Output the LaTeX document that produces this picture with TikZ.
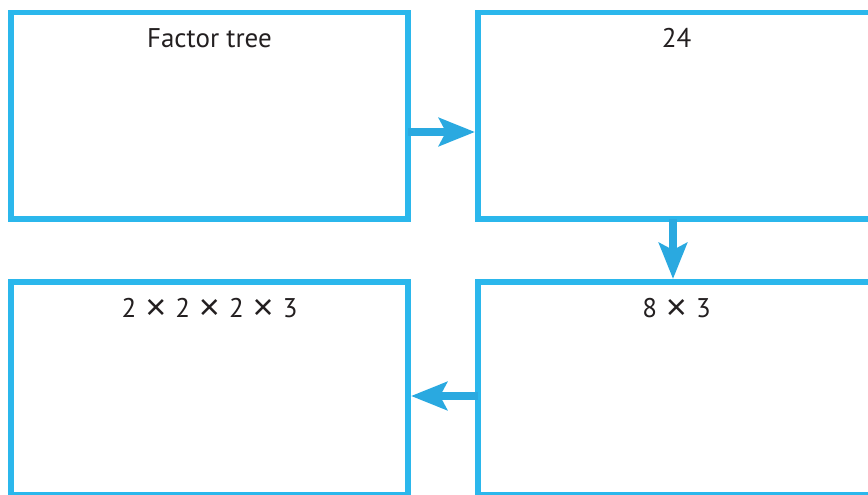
\documentclass[tikz,border=0pt]{standalone}
\usepackage{fontspec}
\setmainfont{PT Sans}
\newfontfamily\symfont{Liberation Sans}
\newcommand\tms{\hspace{9pt}\raisebox{-2pt}{\symfont\fontsize{36}{36}\selectfont ×}\hspace{9pt}}
\usetikzlibrary{arrows.meta}
\definecolor{boxcyan}{HTML}{2BB7EC}
\definecolor{arrcyan}{HTML}{2AA9E0}
\definecolor{txt}{HTML}{231F20}
\tikzset{
  panel/.style={draw=boxcyan, line width=5.8pt, rectangle, outer sep=0pt, inner sep=0pt},
  flow/.style={draw=arrcyan, line width=7.5pt, -{Stealth[length=36pt,width=28pt,inset=7pt]}},
  lbl/.style={anchor=base, inner sep=0pt, text=txt, font=\fontsize{27}{32}\selectfont}
}
\begin{document}
\begin{tikzpicture}[x=1pt,y=-1pt]
\useasboundingbox (0,0) rectangle (868,495);
\begin{scope}
\clip (0,0) rectangle (868,495);
\node[panel, minimum width=397pt, minimum height=206.5pt] (b1) at (209.5,115.75) {};
\node[panel, minimum width=397pt, minimum height=206.5pt] (b2) at (676.5,115.75) {};
\node[panel, minimum width=397pt, minimum height=213pt] (b3) at (209.5,388.5) {};
\node[panel, minimum width=397pt, minimum height=213pt] (b4) at (676.5,388.5) {};
\end{scope}
\node[lbl] (t1) at ([yshift=-34.8pt]b1.north) {Factor tree};
\node[lbl] (t2) at ([yshift=-34.8pt]b2.north) {24};
\node[lbl] (t4) at ([yshift=-35pt]b4.north) {8\tms3};
\node[lbl] (t3) at ([yshift=-35pt]b3.north) {2\tms2\tms2\tms3};
\draw[flow] ([yshift=-16.25pt]b1.east) -- ([yshift=-16.25pt,xshift=-3pt]b2.west);
\draw[flow] ([xshift=-3.5pt]b2.south) -- ([xshift=-3.5pt,yshift=3pt]b4.north);
\draw[flow] ([yshift=-7.5pt]b4.west) -- ([yshift=-7.5pt,xshift=3pt]b3.east);
\end{tikzpicture}
\end{document}
